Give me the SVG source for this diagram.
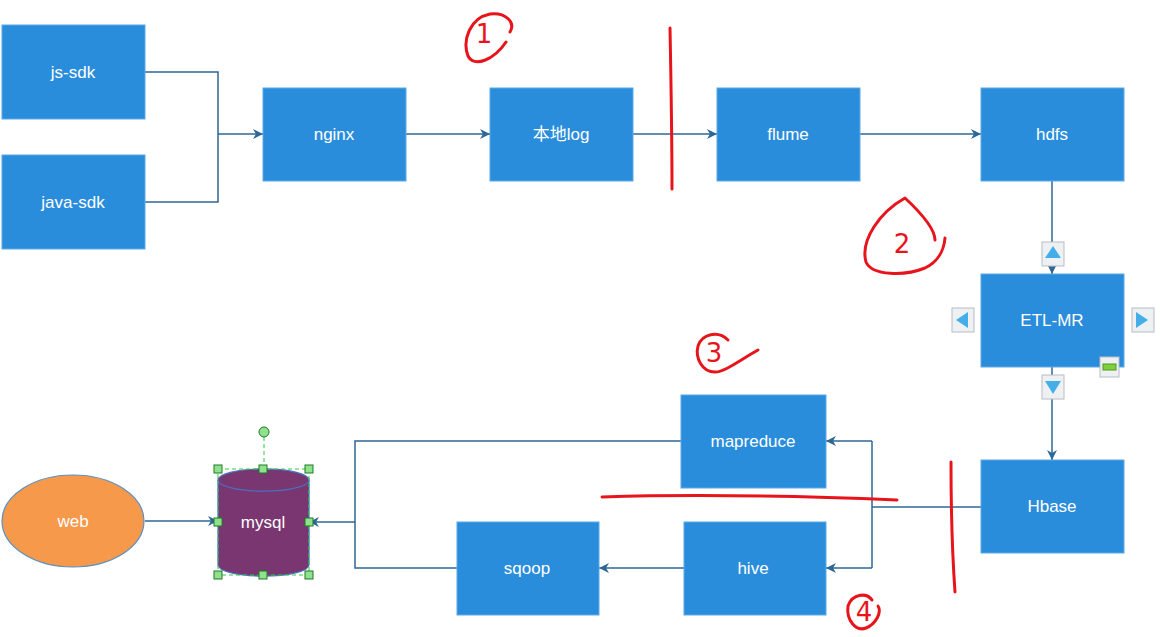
<svg xmlns="http://www.w3.org/2000/svg" width="1160" height="637" viewBox="0 0 1160 637">
<style>
.box{fill:#2a8ddb;stroke:#5aaae6;stroke-width:1}
.lbl{font-family:"Liberation Sans",Arial,sans-serif;font-size:17px;fill:#ffffff;text-anchor:middle;dominant-baseline:central}
.con{fill:none;stroke:#2e6796;stroke-width:1.5}
.red{fill:none;stroke:#e8141c;stroke-width:3;stroke-linecap:round;stroke-linejoin:round}
.rnum{font-family:"DejaVu Sans",sans-serif;font-size:26px;fill:#e8141c;text-anchor:middle;dominant-baseline:central}
.btn{fill:#eef1f4;stroke:#b7bcc2;stroke-width:1}
.tri{fill:#45aee8}
.hd{fill:#8fe08f;stroke:#1e7a1e;stroke-width:1}
</style>
<defs>
<marker id="arr" viewBox="0 0 10 10" refX="10" refY="5" markerWidth="10" markerHeight="10" orient="auto" markerUnits="userSpaceOnUse">
<path d="M0,0 L10,5 L0,10 L3,5 Z" fill="#2e6796"/>
</marker>
</defs>
<rect width="1160" height="637" fill="#ffffff"/>

<g id="connectors">
<polyline class="con" points="145,72 218,72 218,202 145,202"/>
<line class="con" x1="218" y1="134" x2="263" y2="134" marker-end="url(#arr)"/>
<line class="con" x1="406" y1="134" x2="490" y2="134" marker-end="url(#arr)"/>
<line class="con" x1="633" y1="134" x2="717" y2="134" marker-end="url(#arr)"/>
<line class="con" x1="860" y1="134" x2="981" y2="134" marker-end="url(#arr)"/>
<line class="con" x1="1052" y1="181" x2="1052" y2="274" marker-end="url(#arr)"/>
<line class="con" x1="1052" y1="367" x2="1052" y2="460" marker-end="url(#arr)"/>
<polyline class="con" points="981,507 872,507"/>
<polyline class="con" points="872,441 872,568"/>
<line class="con" x1="872" y1="441" x2="826" y2="441" marker-end="url(#arr)"/>
<line class="con" x1="872" y1="568" x2="826" y2="568" marker-end="url(#arr)"/>
<line class="con" x1="684" y1="568" x2="599" y2="568" marker-end="url(#arr)"/>
<polyline class="con" points="681,441 355,441 355,568 457,568"/>
<line class="con" x1="355" y1="522" x2="309" y2="522" marker-end="url(#arr)"/>
<line class="con" x1="145" y1="521" x2="218" y2="521" marker-end="url(#arr)"/>
</g>

<g id="js-sdk"><rect class="box" x="2" y="25" width="143" height="94"/><text class="lbl" x="73" y="72">js-sdk</text></g>
<g id="java-sdk"><rect class="box" x="2" y="155" width="143" height="94"/><text class="lbl" x="73" y="202">java-sdk</text></g>
<g id="nginx"><rect class="box" x="263" y="88" width="143" height="93"/><text class="lbl" x="334" y="134">nginx</text></g>
<g id="local-log"><rect class="box" x="490" y="88" width="143" height="93"/><text class="lbl" x="561" y="134" style="font-family:'Liberation Sans','Noto Sans CJK SC',sans-serif">本地log</text></g>
<g id="flume"><rect class="box" x="717" y="88" width="143" height="93"/><text class="lbl" x="788" y="134">flume</text></g>
<g id="hdfs"><rect class="box" x="981" y="88" width="143" height="93"/><text class="lbl" x="1052" y="134">hdfs</text></g>
<g id="etl-mr"><rect class="box" x="981" y="274" width="143" height="93"/><text class="lbl" x="1052" y="320">ETL-MR</text>
<rect class="btn" x="1042" y="242" width="22" height="24"/><path class="tri" d="M1053,246 L1061,258 L1045,258 Z"/>
<rect class="btn" x="952" y="308" width="22" height="24"/><path class="tri" d="M956,320 L968,312 L968,328 Z"/>
<rect class="btn" x="1132" y="308" width="22" height="24"/><path class="tri" d="M1148,320 L1136,312 L1136,328 Z"/>
<rect class="btn" x="1042" y="375" width="22" height="24"/><path class="tri" d="M1045,381 L1061,381 L1053,394 Z"/>
<rect class="btn" x="1100" y="357" width="19" height="20"/><rect x="1103" y="364" width="13" height="6" fill="#7cd13c" stroke="#4c9a1c" stroke-width="1"/>
</g>
<g id="hbase"><rect class="box" x="981" y="460" width="143" height="93"/><text class="lbl" x="1052" y="506">Hbase</text></g>
<g id="mapreduce"><rect class="box" x="681" y="395" width="145" height="93"/><text class="lbl" x="753" y="441">mapreduce</text></g>
<g id="hive"><rect class="box" x="684" y="522" width="142" height="93"/><text class="lbl" x="753" y="568">hive</text></g>
<g id="sqoop"><rect class="box" x="457" y="522" width="142" height="93"/><text class="lbl" x="527" y="568">sqoop</text></g>
<g id="web"><ellipse cx="73" cy="521" rx="71" ry="46" fill="#f7994a" stroke="#5b8fc0" stroke-width="1.2"/><text class="lbl" x="73" y="521">web</text></g>
<g id="mysql">
<path d="M218,480 L218,565 A45,11 0 0 0 309,565 L309,480 A45,11 0 0 0 218,480 Z" fill="#7a3671" stroke="#4a6fc0" stroke-width="1.2"/>
<path d="M218,480 A45,11 0 0 0 309,480" fill="none" stroke="#4a6fc0" stroke-width="1.2"/>
<text class="lbl" x="263" y="522">mysql</text>
<rect x="218" y="469" width="91" height="106" fill="none" stroke="#2ecc40" stroke-width="1" stroke-dasharray="4,3"/>
<line x1="264" y1="437" x2="264" y2="469" stroke="#2ecc40" stroke-width="1" stroke-dasharray="4,3"/>
<circle class="hd" cx="264" cy="432" r="5"/>
<rect class="hd" x="214" y="465" width="8" height="8"/><rect class="hd" x="259" y="465" width="8" height="8"/><rect class="hd" x="305" y="465" width="8" height="8"/>
<rect class="hd" x="214" y="518" width="8" height="8"/><rect class="hd" x="305" y="518" width="8" height="8"/>
<rect class="hd" x="214" y="571" width="8" height="8"/><rect class="hd" x="259" y="571" width="8" height="8"/><rect class="hd" x="305" y="571" width="8" height="8"/>
</g>

<g id="annotations">
<path class="red" d="M510,32 C516,22 505,12 490,14 C470,18 462,40 468,56 C474,68 494,60 506,42"/>
<text class="rnum" x="484" y="34">1</text>
<path class="red" d="M670,28 C671,80 672,140 672,189"/>
<path class="red" d="M945,238 C944,250 938,262 925,268 C905,276 872,276 866,262 C860,240 880,212 905,198 C920,212 935,228 935,240"/>
<text class="rnum" x="902" y="244">2</text>
<path class="red" d="M758,350 C740,360 725,372 715,372 C702,372 695,358 698,346 C702,334 718,330 728,340"/>
<text class="rnum" x="714" y="353">3</text>
<path class="red" d="M602,497 C700,494 800,496 897,500"/>
<path class="red" d="M951,462 C951,500 952,550 955,592"/>
<path class="red" d="M872,600 C866,592 852,594 848,606 C846,620 856,632 866,628 C876,624 882,612 878,606"/>
<text class="rnum" x="864" y="612">4</text>
</g>
</svg>
